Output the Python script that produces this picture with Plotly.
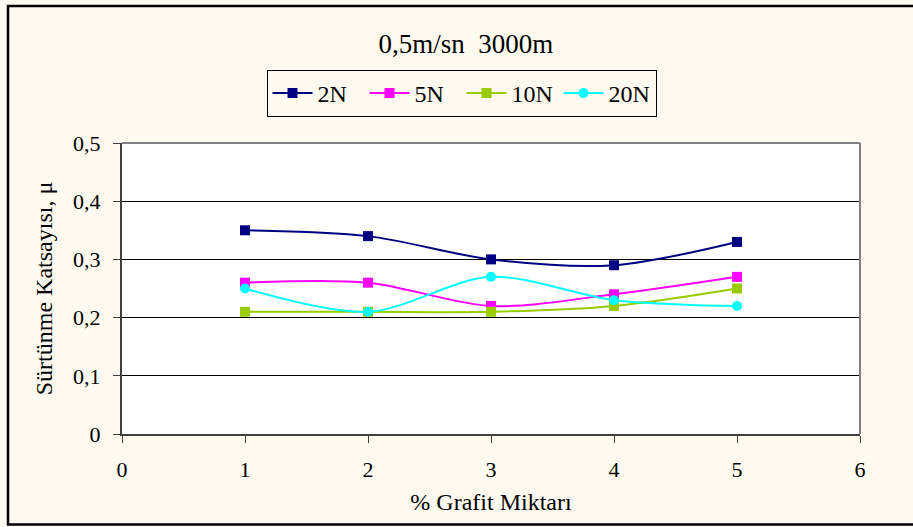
import plotly.graph_objects as go

# Data
x_vals = [1, 2, 3, 4, 5]
s_2N = [0.35, 0.34, 0.30, 0.29, 0.33]
s_5N = [0.26, 0.26, 0.22, 0.24, 0.27]
s_10N = [0.21, 0.21, 0.21, 0.22, 0.25]
s_20N = [0.25, 0.21, 0.27, 0.23, 0.22]
series_names = ["2N", "5N", "10N", "20N"]
x_ticks = [0, 1, 2, 3, 4, 5, 6]
y_ticks = [0, 0.1, 0.2, 0.3, 0.4, 0.5]

colors = ["#000080", "#FF00FF", "#99CC00", "#00FFFF"]
symbols = ["square", "square", "square", "circle"]
FONT = "Liberation Serif"
W, H = 913, 527
L, R, T, B = 122, 860, 143, 434

fig = go.Figure()
for name, ys, c, sym in zip(series_names, [s_2N, s_5N, s_10N, s_20N], colors, symbols):
    fig.add_trace(go.Scatter(
        x=x_vals, y=ys, name=name, mode="lines+markers",
        line=dict(color=c, width=2, shape="spline", smoothing=0.9),
        marker=dict(symbol=sym, size=10, color=c, line=dict(width=0)),
    ))

def px_x(px):
    return (px - L) / (R - L)

def px_y(py):
    return (B - py) / (B - T)

fig.update_layout(
    width=W, height=H,
    margin=dict(l=L, r=W - R, t=T, b=H - B, pad=0),
    paper_bgcolor="#FFFAF0",
    plot_bgcolor="#FFFFFF",
    separators=", ",
    font=dict(family=FONT, size=22, color="#000000"),
    title=dict(text="0,5m/sn\u00a0\u00a03000m", xref="container", yref="container",
               x=466 / W, xanchor="center", y=1 - 44 / H, yanchor="middle",
               font=dict(family=FONT, size=27, color="#000000")),
    showlegend=True,
    legend=dict(orientation="h", x=px_x(461.5), xanchor="center", y=px_y(70), yanchor="top",
                bgcolor="#FFFAF0", bordercolor="#000000", borderwidth=1,
                font=dict(family=FONT, size=24, color="#000000"),
                itemwidth=40, entrywidth=42, entrywidthmode="pixels", tracegroupgap=0),
    xaxis=dict(range=[0, 6], tickvals=x_ticks, ticks="outside", ticklen=7, tickcolor="#404040",
               tickwidth=1, showline=True, linecolor="#404040", linewidth=2, showgrid=False,
               zeroline=False, ticklabelstandoff=8,
               title=dict(text="% Grafit Miktarı", standoff=12, font=dict(family=FONT, size=24))),
    yaxis=dict(range=[0, 0.5], tickvals=y_ticks, ticks="outside", ticklen=7, tickcolor="#404040",
               tickwidth=1, showline=True, linecolor="#404040", linewidth=2, showgrid=True,
               gridcolor="#000000", gridwidth=1, zeroline=False, ticklabelstandoff=8,
               title=dict(text="Sürtünme Katsayısı, μ", standoff=14, font=dict(family=FONT, size=24))),
    shapes=[
        dict(type="line", xref="paper", yref="paper", x0=0, x1=1, y0=1, y1=1,
             line=dict(color="#808080", width=2), layer="above"),
        dict(type="line", xref="paper", yref="paper", x0=1, x1=1, y0=0, y1=1,
             line=dict(color="#808080", width=2), layer="above"),
        dict(type="rect", xref="paper", yref="paper",
             x0=px_x(8), x1=px_x(925), y0=px_y(524.5), y1=px_y(6),
             line=dict(color="#000000", width=2.5), fillcolor="rgba(0,0,0,0)", layer="above"),
    ],
)

fig.write_html("out.html", config={"displayModeBar": False},
               post_script="document.body.style.margin='0';document.body.style.padding='0';")
